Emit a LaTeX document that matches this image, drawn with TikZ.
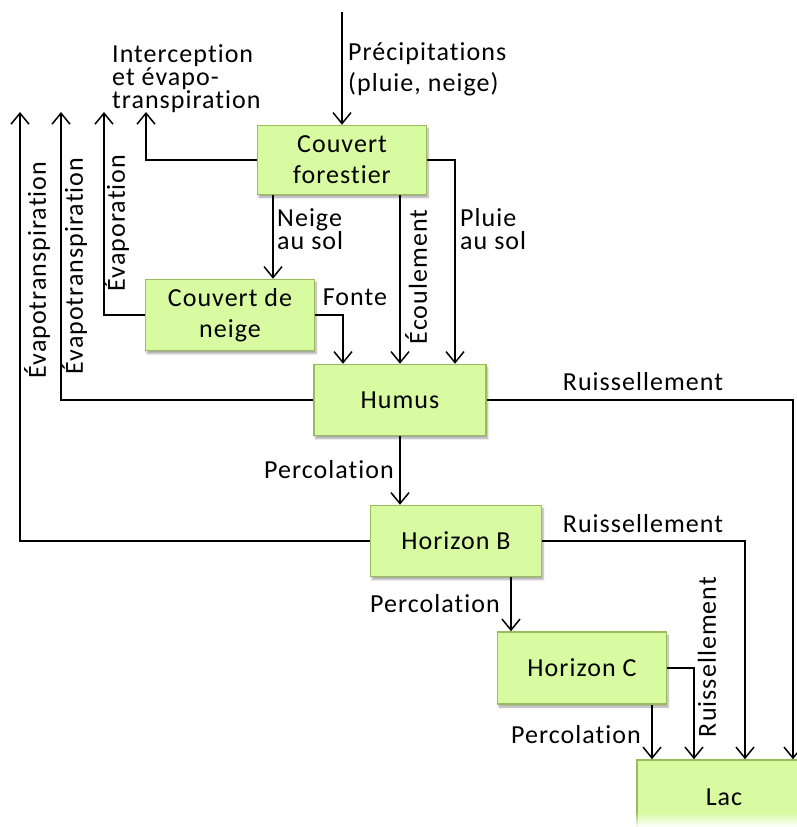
\documentclass[tikz,border=0pt]{standalone}
\usepackage{fontspec}
\setmainfont[LetterSpace=4,Ligatures=CommonOff]{Carlito}
\usetikzlibrary{arrows.meta,shadows.blur,fadings}
\definecolor{boxfill}{RGB}{216,250,160}
\definecolor{boxline}{RGB}{155,187,89}

\begin{document}
\begin{tikzpicture}
[x=1pt,y=-1pt,>={Straight Barb[length=11pt,width=18pt]},
box/.style = {draw=boxline, line width=1.5pt, fill=boxfill, align=center, inner sep=0pt,
  minimum width=170pt, minimum height=71pt, font=\fontsize{26}{31}\selectfont,
  blur shadow={shadow xshift=1.5pt, shadow yshift=-3pt, shadow blur steps=6, shadow opacity=35}},
flow/.style = {->, line width=1.5pt},
lbl/.style = {inner sep=0pt, align=left, font=\fontsize{26}{23}\selectfont},
rot/.style = {inner sep=0pt, rotate=90, font=\fontsize{26}{31}\selectfont},]
\clip (0,0) rectangle (797,827);
\node (CF) at (342,160)[box,minimum width=169pt,minimum height=69pt] {Couvert\\forestier};
\node (CN) at (230,315)[box,minimum width=169pt] {Couvert de\\neige};
\node (HU) at (400,400)[box,minimum width=172pt] {Humus};
\node (HB) at (456,541)[box,minimum width=171pt] {Horizon B};
\node (HC) at (582,668)[box,minimum width=169pt,minimum height=72pt] {Horizon C};
\node (Lac) at (724,797)[box,minimum width=174pt,minimum height=74pt] {Lac};
\fill[white,path fading=north] (630,812) rectangle (797,827);

\coordinate (prec) at (342,12);
\coordinate (ie) at (146,112);
\coordinate (ev) at (104,112);
\coordinate (et2) at (61,112);
\coordinate (et1) at (20,112);

\draw[flow] (prec) -- (CF.north);
\draw[flow] (CF.west) -| (ie);
\draw[flow] (CN.west) -| (ev);
\draw[flow] (HU.west) -| (et2);
\draw[flow] (HB.west) -| (et1);
\draw[flow] ([xshift=-69]CF.south) -- ([xshift=43]CN.north);
\draw[flow] (CF.south -| HU.north) -- (HU.north);
\draw[flow] (CF.east) -| ([xshift=55]HU.north);
\draw[flow] (CN.east) -| ([xshift=-57]HU.north);
\draw[flow] (HU.east) -| ([xshift=69]Lac.north);
\draw[flow] (HU.south) -- (HU.south |- HB.north);
\draw[flow] (HB.east) -| ([xshift=21]Lac.north);
\draw[flow] ([xshift=55]HB.south) -- ([xshift=55]HB.south |- HC.north);
\draw[flow] (HC.east) -| ([xshift=-30]Lac.north);
\draw[flow] ([xshift=70]HC.south) -- ([xshift=70]HC.south |- Lac.north);

% labels
\node (precl) at (348,42)[lbl,anchor=north west,font=\fontsize{26}{31}\selectfont] {Précipitations\\(pluie, neige)};
\node (iel) at (112,44)[lbl,anchor=north west] {Interception\\et évapo-\\transpiration};
\node (neigel) at (277,208)[lbl,anchor=north west] {Neige\\au sol};
\node (pluiel) at (460,208)[lbl,anchor=north west] {Pluie\\au sol};
\node (fontel) at (355,305)[lbl,anchor=base] {Fonte};
\node (ru1) at (643,390)[lbl,anchor=base] {Ruissellement};
\node (ru2) at (643,532)[lbl,anchor=base] {Ruissellement};
\node (pe1) at (329,478)[lbl,anchor=base] {Percolation};
\node (pe2) at (435,612)[lbl,anchor=base] {Percolation};
\node (pe3) at (576,743)[lbl,anchor=base] {Percolation};
\node (et1l) at (37,270)[rot] {Évapotranspiration};
\node (et2l) at (74,266)[rot] {Évapotranspiration};
\node (evl) at (116,223)[rot] {Évaporation};
\node (ecl) at (416,277)[rot] {Écoulement};
\node (ru3) at (707,657)[rot] {Ruissellement};
\end{tikzpicture}
\end{document}
